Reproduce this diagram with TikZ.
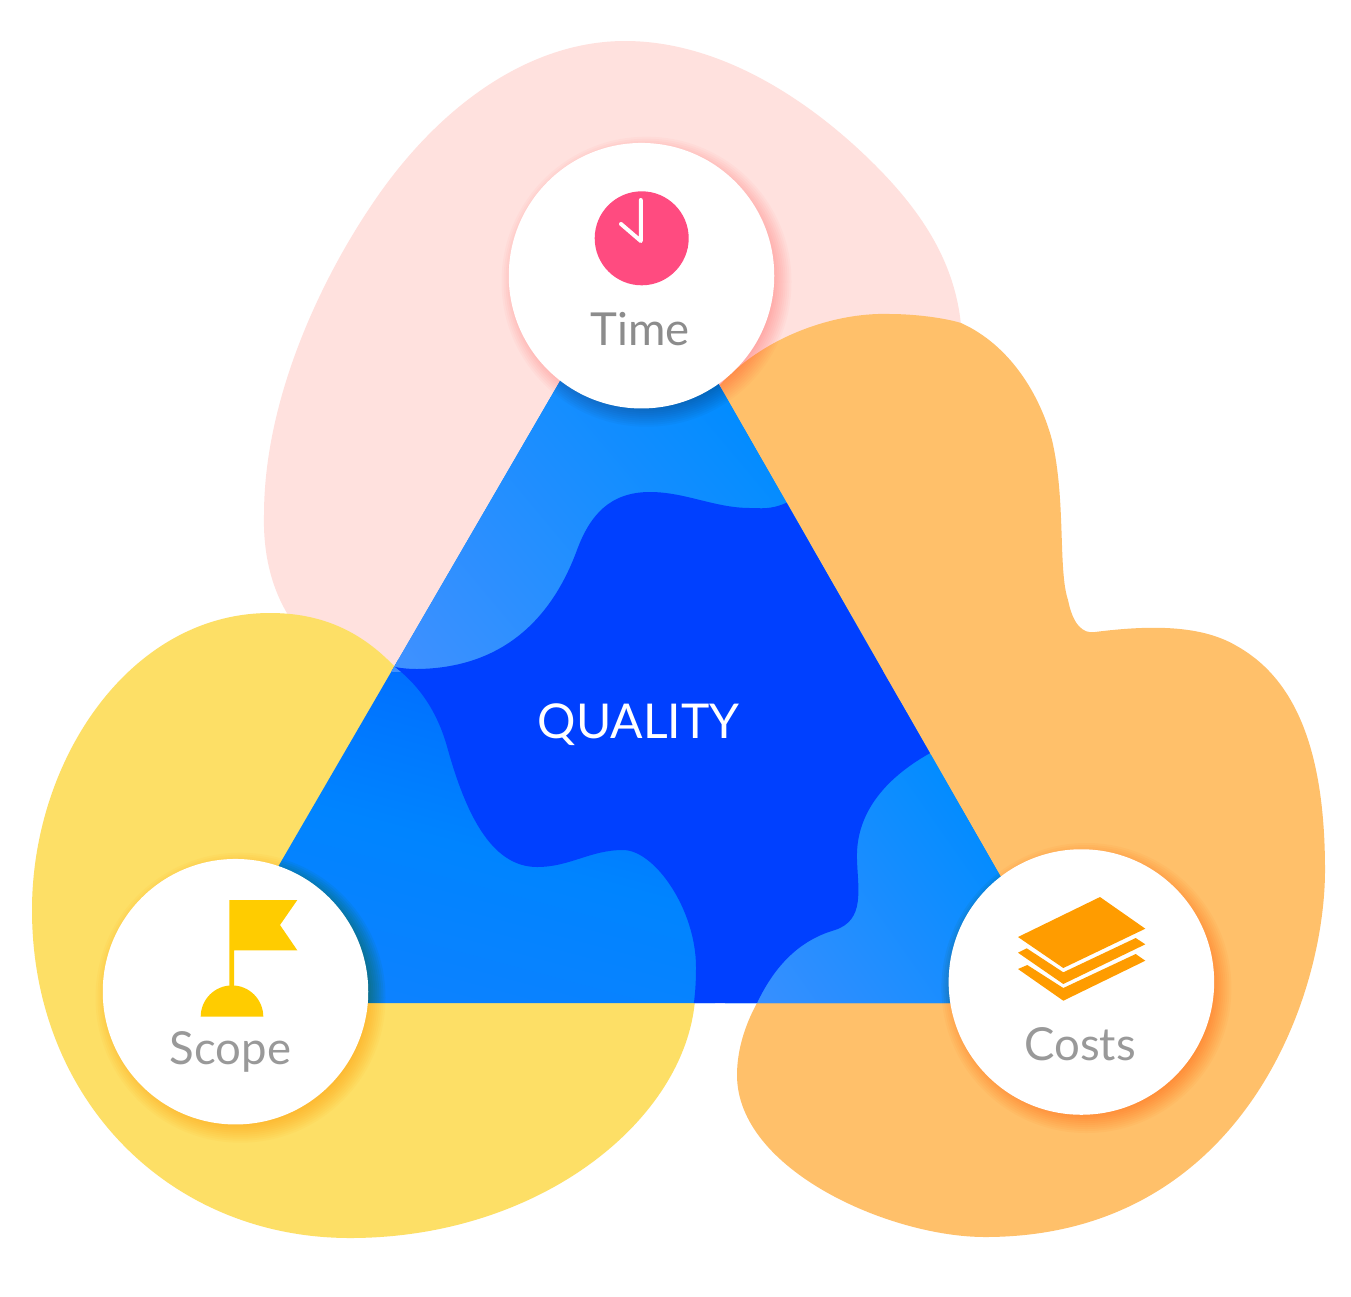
\documentclass[tikz,border=0pt]{standalone}
\usepackage{fontspec}
\setmainfont{Lato}
\definecolor{pinkblob}{HTML}{FFE1DE}
\definecolor{orangeblob}{HTML}{FFC06A}
\definecolor{yellowblob}{HTML}{FDDF66}
\definecolor{deepblue}{HTML}{0040FF}
\definecolor{labelgray}{HTML}{999999}
\definecolor{timegray}{HTML}{8C8C8C}
\definecolor{clockpink}{HTML}{FF4B80}
\definecolor{flagyellow}{HTML}{FFCC00}
\definecolor{stackorange}{HTML}{FF9C00}
\definecolor{ta}{HTML}{008CFF}\definecolor{tb}{HTML}{5092FF}
\definecolor{la}{HTML}{0060FF}\definecolor{lm}{HTML}{0084FF}\definecolor{lb}{HTML}{1480FF}
\definecolor{ra}{HTML}{008CFF}\definecolor{rb}{HTML}{4A90FF}
\definecolor{shadepink}{HTML}{FF9090}
\definecolor{shadeyellow}{HTML}{FFBE00}
\definecolor{shadeorange}{HTML}{FF9020}
\tikzset{
  disc/.style={circle,fill=white,minimum size=265.5pt,inner sep=0pt},
  lbl/.style={anchor=base,text=labelgray,font=\fontsize{45.5}{50}\selectfont,inner sep=0pt}
}
\newcommand{\softshadow}[3]{%
  \begin{scope}[blend mode=multiply]
  \foreach \rr in {125,127,...,145}{\fill[#3,opacity=0.06] (#1+5,#2+6) circle[radius=\rr];}
  \end{scope}}
\begin{document}
\begin{tikzpicture}[x=1pt,y=-1pt]
\useasboundingbox (0,0) rectangle (1351,1296);
\fill[white] (0,0) rectangle (1351,1296);
% pink blob
\fill[pinkblob] (290,618) .. controls (272,590) and (263,555) .. (264,515)
  .. controls (264,400) and (320,280) .. (375,200)
  .. controls (440,105) and (530,41) .. (625,41)
  .. controls (720,41) and (810,100) .. (875,165)
  .. controls (925,215) and (955,265) .. (961,325)
  -- (700,600) -- (395,667) -- cycle;
% orange blob
\fill[orangeblob] (720,385) .. controls (760,340) and (830,312) .. (890,314)
  .. controls (915,314) and (945,318) .. (961,323)
  .. controls (1010,345) and (1040,395) .. (1052,440)
  .. controls (1066,500) and (1058,570) .. (1068,600)
  .. controls (1073,625) and (1083,634) .. (1095,632)
  .. controls (1150,625) and (1200,625) .. (1235,645)
  .. controls (1290,675) and (1325,740) .. (1325,870)
  .. controls (1325,1000) and (1240,1237) .. (985,1237)
  .. controls (890,1237) and (737,1170) .. (737,1075)
  .. controls (737,1050) and (745,1025) .. (757,1003)
  -- (900,800) -- cycle;
% yellow blob
\fill[yellowblob] (395,667) .. controls (360,630) and (320,613) .. (270,613)
  .. controls (130,613) and (32,760) .. (32,910)
  .. controls (32,1100) and (170,1238) .. (350,1238)
  .. controls (540,1238) and (685,1120) .. (695,1000)
  -- (500,800) -- cycle;
% triangle
\coordinate (apex) at (639,245);
\coordinate (bl) at (199,1003);
\coordinate (br) at (1073,1003);
\begin{scope}
\clip (apex) -- (bl) -- (br) -- cycle;
\begin{scope}
\clip (100,660) rectangle (730,1100);
\shade[top color=la,bottom color=lb,middle color=lm,shading angle=-15] (165,565) rectangle (715,1115);
\end{scope}
\begin{scope}
\clip (100,200) rectangle (900,671);
\fill[ta] (100,200) rectangle (900,671);
\shade[top color=ta,bottom color=tb,shading angle=-50] (250,295) rectangle (810,855);
\end{scope}
\begin{scope}
\clip (725,700) rectangle (1100,1100);
\fill[ra] (725,700) rectangle (1100,1100);
\shade[top color=ra,bottom color=rb,shading angle=-55] (645,755) rectangle (1045,1155);
\end{scope}
\fill[deepblue] (830,480) -- (786,503) .. controls (770,510) and (760,508) .. (750,508)
  .. controls (715,508) and (685,492) .. (650,492)
  .. controls (610,492) and (590,515) .. (577,550)
  .. controls (555,610) and (510,668) .. (417,669)
  .. controls (408,669) and (400,668) .. (395,667)
  .. controls (425,690) and (440,720) .. (448,750)
  .. controls (465,810) and (490,867) .. (537,867)
  .. controls (570,867) and (590,850) .. (623,850)
  .. controls (655,850) and (696,910) .. (696,967)
  .. controls (696,985) and (695,995) .. (693,1010)
  -- (755,1010) -- (757,1003)
  .. controls (775,965) and (800,940) .. (835,930)
  .. controls (865,920) and (858,890) .. (857,860)
  .. controls (855,810) and (890,775) .. (932,752)
  -- (1000,700) -- cycle;
\end{scope}
% shadows and discs
\softshadow{641.5}{275.7}{shadepink}
\softshadow{235.5}{991.7}{shadeyellow}
\softshadow{1081.4}{982}{shadeorange}
\node[disc] (timeDisc) at (641.5,275.7) {};
\node[disc] (scopeDisc) at (235.5,991.7) {};
\node[disc] (costsDisc) at (1081.4,982) {};
% clock
\fill[clockpink] (641.7,238.3) circle[radius=47];
\draw[white,line width=4pt,line cap=round,line join=round] (640.8,200) -- (640.8,241) -- (621,224);
% flag
\fill[flagyellow] (229.3,900) -- (297.3,900) -- (280,925) -- (297.3,950.3) -- (234,950.3) -- (234,990) -- (229.3,990) -- cycle;
\fill[flagyellow] (200.7,1016.7) arc[start angle=180,end angle=360,radius=31.3] -- cycle;
% layers
\fill[stackorange] (1018,937) -- (1100,897) -- (1145.3,928.7) -- (1063.3,968) -- cycle;
\fill[stackorange] (1018,952.7) -- (1026.7,948.3) -- (1063.3,972.3) -- (1135.7,938) -- (1145.3,944.3) -- (1063.3,984) -- cycle;
\fill[stackorange] (1018,969) -- (1027.3,965) -- (1063.3,988) -- (1135.7,954) -- (1145.3,960.7) -- (1063.3,1000.7) -- cycle;
% labels
\node[lbl,text=timegray] (timeText) at (640,345) {Time};
\node[lbl] (scopeText) at (230.5,1064.5) {Scope};
\node[lbl] (costsText) at (1080,1060.5) {Costs};
\node[lbl,text=white,font=\fontsize{48}{50}\selectfont] (qualityText) at (638.5,738) {QUALITY};
\end{tikzpicture}
\end{document}
